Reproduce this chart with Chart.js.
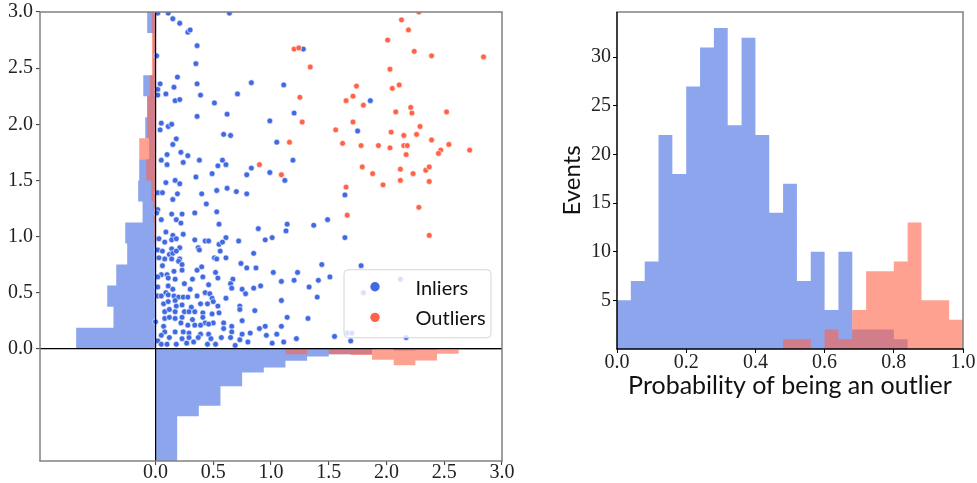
<!DOCTYPE html>
<html>
<head>
<meta charset="utf-8">
<script src="https://cdn.jsdelivr.net/npm/chart.js@4.4.1/dist/chart.umd.min.js"></script>
<style>
  html, body { margin: 0; padding: 0; background: #fff; }
  #wrap { position: relative; width: 977px; height: 483px; overflow: hidden; }
  #scatter { position: absolute; left: 0; top: 0; }
  #proba { position: absolute; left: 520px; top: 0; }
</style>
</head>
<body>
<div id="wrap">
  <canvas id="scatter" width="520" height="483"></canvas>
  <canvas id="proba" width="457" height="483"></canvas>
</div>
<script>
// ---- data ----
var seriesNames = ['Inliers', 'Outliers'];
var seriesColors = ['#4169E1', '#FF6347'];

var axisTicks = [0, 0.5, 1, 1.5, 2, 2.5, 3];
var probTicks = [0, 0.2, 0.4, 0.6, 0.8, 1];
var countTicks = [5, 10, 15, 20, 25, 30];

// marginal histograms of the scatter (bar length in axis units)
var binEdges = [0, 0.1875, 0.375, 0.5625, 0.75, 0.9375, 1.125, 1.3125, 1.5, 1.6875, 1.875, 2.0625, 2.25, 2.4375, 2.625, 2.8125, 3];
var inlierHistY = [0.687, 0.364, 0.418, 0.340, 0.245, 0.262, 0.112, 0.150, 0.141, 0.055, 0.089, 0.072, 0.106, 0.020, 0.020, 0.072];
var outlierHistY = [0, 0, 0, 0, 0, 0.010, 0.020, 0.037, 0.080, 0.141, 0.072, 0.072, 0.049, 0.031, 0.031, 0.031];
var inlierHistX = [1.03, 0.602, 0.507, 0.335, 0.211, 0.166, 0.107, 0.070, 0.050, 0.050, 0, 0.015, 0.010, 0, 0, 0];
var outlierHistX = [0, 0, 0, 0, 0.010, 0.010, 0.050, 0.010, 0.050, 0.055, 0.098, 0.148, 0.104, 0.044, 0.010, 0.010];

// probability histogram (events per bin)
var probEdges = [0, 0.04, 0.08, 0.12, 0.16, 0.2, 0.24, 0.28, 0.32, 0.36, 0.4, 0.44, 0.48, 0.52, 0.56, 0.6, 0.64, 0.68, 0.72, 0.76, 0.8, 0.84, 0.88, 0.92, 0.96, 1];
var inlierCounts = [5, 7, 9, 22, 18, 27, 31, 33, 23, 32, 22, 14, 17, 7, 10, 4, 10, 2, 2, 2, 1, 0, 0, 0, 0];
var outlierCounts = [0, 0, 0, 0, 0, 0, 0, 0, 0, 0, 0, 0, 1, 1, 0, 2, 1, 4, 8, 8, 9, 13, 5, 5, 3];

var inlierPoints = [
  [0.02,2.99],[0.11,2.99],[0.15,2.94],[0.21,2.90],[0.28,2.82],[0.30,2.84],[0.36,2.70],[0.64,2.99],
  [0.01,2.61],[0.35,2.54],[0.19,2.42],[0.36,2.36],[0.04,2.36],[0.02,2.31],[0.16,2.33],[0.02,2.26],
  [0.09,2.27],[0.17,2.21],[0.21,2.22],[0.39,2.26],[0.51,2.19],[0.71,2.27],[0.83,2.37],[1.11,2.35],
  [1.20,2.10],[0.99,2.03],[0.62,2.09],[0.36,2.07],[0.05,2.01],[0.11,1.98],[0.14,2.00],[0.04,1.95],
  [0.18,1.87],[0.15,1.82],[0.59,1.91],[0.65,1.90],[1.05,1.84],[0.22,1.75],[0.28,1.72],[0.10,1.73],
  [0.05,1.68],[0.10,1.64],[0.24,1.66],[0.38,1.68],[0.58,1.68],[0.54,1.63],[0.61,1.64],[0.83,1.61],
  [0.79,1.55],[0.49,1.56],[0.35,1.53],[0.99,1.57],[1.19,1.68],[1.12,1.50],[0.17,1.50],[1.28,2.67],
  [1.86,2.21],[1.75,1.94],
  [1.64,1.37],[1.49,1.15],[1.64,0.99],[1.44,0.75],[1.78,0.74],[1.51,0.64],[2.12,0.62],[1.80,0.50],
  [1.55,0.11],[1.69,0.07],[2.17,0.10],[1.66,0.14],[1.70,0.14],
  [0.09,1.48],[0.21,1.47],[0.02,1.39],[0.06,1.39],[0.19,1.38],[0.15,1.33],[0.40,1.38],[0.53,1.41],
  [0.62,1.43],[0.70,1.40],[0.79,1.38],[0.44,1.29],[0.02,1.24],[0.01,1.21],[0.14,1.20],[0.23,1.20],
  [0.34,1.21],[0.53,1.22],[0.05,1.15],[0.18,1.15],[0.22,1.12],[0.55,1.11],[1.14,1.11],[0.89,1.07],
  [1.13,1.05],[1.37,1.10],[0.09,1.04],[0.15,1.01],[0.24,1.02],[0.03,0.98],[0.08,0.95],[0.14,0.97],
  [0.18,0.98],[0.34,0.97],[0.43,0.96],[0.46,0.96],[0.55,0.93],[0.61,0.99],[0.58,0.95],[0.72,0.96],
  [0.95,0.97],[1.01,0.99],[0.02,0.88],[0.06,0.87],[0.14,0.89],[0.21,0.90],[0.37,0.90],[0.38,0.88],
  [0.56,0.87],[0.12,0.84],[0.15,0.85],[0.18,0.87],[0.03,0.81],[0.08,0.80],[0.14,0.80],[0.21,0.80],
  [0.51,0.81],[0.53,0.80],[0.61,0.81],[0.85,0.85],[0.20,0.78],[0.06,0.74],[0.23,0.75],[0.40,0.73],
  [0.74,0.76],[0.79,0.72],[0.87,0.72],[1.23,0.68],[0.05,0.66],[0.10,0.66],[0.16,0.69],[0.23,0.70],
  [0.36,0.70],[0.52,0.68],[0.02,0.64],[0.11,0.63],[0.17,0.62],[0.25,0.58],[0.32,0.62],[0.41,0.64],
  [0.54,0.63],[0.67,0.62],[0.65,0.58],[1.02,0.68],[1.20,0.61],[1.41,0.61],[0.02,0.55],[0.11,0.56],
  [0.15,0.53],[0.30,0.53],[0.46,0.57],[0.66,0.54],[0.75,0.53],[0.85,0.54],[0.91,0.56],[1.09,0.60],
  [1.33,0.55],[0.02,0.47],[0.05,0.47],[0.09,0.50],[0.11,0.48],[0.16,0.47],[0.20,0.46],[0.24,0.46],
  [0.28,0.46],[0.36,0.47],[0.43,0.50],[0.47,0.49],[0.49,0.45],[0.61,0.45],[0.78,0.49],[1.40,0.46],
  [0.07,0.40],[0.11,0.42],[0.17,0.43],[0.18,0.38],[0.23,0.39],[0.31,0.37],[0.39,0.40],[0.45,0.40],
  [0.50,0.42],[0.54,0.38],[0.73,0.38],[0.73,0.35],[0.86,0.34],[1.09,0.43],[0.08,0.33],[0.12,0.35],
  [0.17,0.33],[0.25,0.33],[0.29,0.33],[0.34,0.33],[0.41,0.32],[0.49,0.31],[0.55,0.32],[0.08,0.27],
  [0.12,0.28],[0.17,0.27],[0.23,0.28],[0.32,0.26],[0.41,0.28],[0.43,0.23],[0.50,0.23],[0.75,0.25],
  [1.14,0.28],[1.32,0.27],[0.00,0.24],[0.07,0.20],[0.22,0.23],[0.28,0.21],[0.34,0.21],[0.39,0.21],
  [0.46,0.22],[0.59,0.23],[0.66,0.20],[0.08,0.15],[0.17,0.15],[0.24,0.15],[0.29,0.14],[0.39,0.13],
  [0.46,0.13],[0.59,0.18],[0.66,0.15],[0.75,0.13],[0.90,0.18],[0.95,0.20],[1.09,0.20],[0.82,0.14],
  [0.96,0.12],[1.05,0.13],[0.05,0.12],[0.12,0.10],[0.23,0.09],[0.29,0.10],[0.37,0.10],[0.48,0.09],
  [0.57,0.10],[0.65,0.10],[0.73,0.08],[0.80,0.06],[1.22,0.09],[1.01,0.05],[1.11,0.06],[0.02,0.07],
  [0.05,0.04],[0.10,0.04],[0.18,0.04],[0.27,0.05],[0.33,0.06],[0.45,0.04],[0.52,0.04],[0.69,0.03]
];

var outlierPoints = [
  [1.20,2.67],[1.24,2.68],[1.34,2.51],[1.25,2.24],[1.27,2.02],[1.16,1.84],[0.90,1.64],[1.09,1.55],
  [2.28,3.00],[2.13,2.93],[2.19,2.84],[2.01,2.75],[2.24,2.65],[2.39,2.61],[2.84,2.60],[2.03,2.49],
  [1.74,2.34],[2.11,2.35],[2.05,2.32],[1.71,2.25],[1.65,2.21],[1.80,2.17],[2.21,2.15],[2.22,2.10],
  [2.08,2.11],[2.52,2.11],[1.71,2.02],[1.56,1.95],[2.04,1.93],[2.29,1.98],[2.15,1.90],[2.26,1.91],
  [2.39,1.86],[1.62,1.83],[1.78,1.81],[1.93,1.81],[2.03,1.79],[2.15,1.81],[2.18,1.81],[2.54,1.82],
  [2.47,1.77],[2.45,1.74],[2.72,1.77],[2.17,1.73],[1.79,1.62],[1.88,1.56],[2.12,1.60],[2.23,1.56],
  [2.34,1.59],[2.37,1.62],[2.12,1.50],[2.37,1.49],[1.65,1.44],[1.97,1.46],[2.28,1.26],[1.66,1.19],
  [2.37,1.01]
];

// ---- helpers ----
var blueFill = 'rgba(65, 105, 225, 0.6)';
var redFill = 'rgba(255, 99, 71, 0.6)';
var serif = "'Liberation Serif', 'Times New Roman', serif";
var sans = "Lato, 'Open Sans', sans-serif";

// closed step outline of a histogram; side: 'left', 'down' or 'up'
function stepShape(edges, heights, side) {
  var pts = [];
  function push(e, h) {
    if (side === 'left') pts.push({x: -h, y: e});
    else if (side === 'down') pts.push({x: e, y: -h});
    else pts.push({x: e, y: h});
  }
  push(edges[0], 0);
  for (var i = 0; i < heights.length; i++) {
    push(edges[i], heights[i]);
    push(edges[i + 1], heights[i]);
  }
  push(edges[edges.length - 1], 0);
  push(edges[0], 0);
  return pts;
}

function histDataset(points, color, order) {
  return {
    type: 'line',
    data: points,
    backgroundColor: color,
    borderColor: 'rgba(0,0,0,0)',
    borderWidth: 0,
    pointRadius: 0,
    tension: 0,
    fill: 'shape',
    order: order
  };
}

function toXY(list) {
  return list.map(function (p) { return {x: p[0], y: p[1]}; });
}

// spines round the plot area
var framePlugin = {
  id: 'frame',
  afterDraw: function (chart, args, o) {
    var ctx = chart.ctx, a = chart.chartArea;
    ctx.save();
    ctx.lineWidth = o.width;
    function side(color, x1, y1, x2, y2) {
      ctx.strokeStyle = color;
      ctx.beginPath();
      ctx.moveTo(x1, y1);
      ctx.lineTo(x2, y2);
      ctx.stroke();
    }
    side(o.top, a.left - 0.7, a.top, a.right + 0.7, a.top);
    side(o.right, a.right, a.top, a.right, a.bottom);
    side(o.bottom, a.left - 0.7, a.bottom, a.right + 0.7, a.bottom);
    side(o.left, a.left, a.top, a.left, a.bottom);
    ctx.restore();
  }
};

// legend box in the lower right of the scatter quadrant
var innerLegend = {
  id: 'innerLegend',
  afterDraw: function (chart) {
    var ctx = chart.ctx;
    var right = chart.scales.x.getPixelForValue(3) - 11;
    var bottom = chart.scales.y.getPixelForValue(0) - 11;
    var w = 147, h = 68, left = right - w, top = bottom - h, r = 4;
    ctx.save();
    ctx.beginPath();
    ctx.moveTo(left + r, top);
    ctx.arcTo(right, top, right, bottom, r);
    ctx.arcTo(right, bottom, left, bottom, r);
    ctx.arcTo(left, bottom, left, top, r);
    ctx.arcTo(left, top, right, top, r);
    ctx.closePath();
    ctx.fillStyle = 'rgba(255,255,255,0.8)';
    ctx.fill();
    ctx.strokeStyle = '#d6d6d6';
    ctx.lineWidth = 1;
    ctx.stroke();
    ctx.font = '20px ' + sans;
    ctx.textBaseline = 'alphabetic';
    ctx.textAlign = 'left';
    for (var i = 0; i < seriesNames.length; i++) {
      var cy = top + 17 + i * 30.6;
      ctx.beginPath();
      ctx.arc(left + 31, cy, 4.7, 0, Math.PI * 2);
      ctx.fillStyle = seriesColors[i];
      ctx.fill();
      ctx.fillStyle = '#111';
      ctx.fillText(seriesNames[i], left + 71.5, cy + 8);
    }
    ctx.restore();
  }
};

Chart.defaults.font.family = serif;
Chart.defaults.font.size = 20;
Chart.defaults.color = '#222';

var zeroGrid = {
  z: 1,
  color: function (c) { return c.tick && c.tick.value === 0 ? '#000' : 'rgba(0,0,0,0)'; },
  lineWidth: 1.2,
  tickColor: '#333',
  tickLength: 4,
  tickWidth: 1
};

// ---- scatter with marginal histograms ----
new Chart(document.getElementById('scatter'), {
  type: 'scatter',
  data: {
    datasets: [
      histDataset(stepShape(binEdges, inlierHistY, 'left'), blueFill, 5),
      histDataset(stepShape(binEdges, inlierHistX, 'down'), blueFill, 5),
      histDataset(stepShape(binEdges, outlierHistY, 'left'), redFill, 4),
      histDataset(stepShape(binEdges, outlierHistX, 'down'), redFill, 4),
      {
        label: seriesNames[0],
        data: toXY(inlierPoints),
        backgroundColor: seriesColors[0],
        borderColor: '#fff',
        borderWidth: 0.6,
        pointRadius: 2.9,
        order: 2
      },
      {
        label: seriesNames[1],
        data: toXY(outlierPoints),
        backgroundColor: seriesColors[1],
        borderColor: '#fff',
        borderWidth: 0.6,
        pointRadius: 2.9,
        order: 1
      }
    ]
  },
  options: {
    responsive: false,
    animation: false,
    layout: { padding: { left: 0, top: 12, right: 18, bottom: 0 } },
    plugins: {
      legend: { display: false },
      tooltip: { enabled: false },
      frame: { width: 1.5, top: '#808080', right: '#808080', bottom: '#808080', left: '#808080' }
    },
    scales: {
      x: {
        type: 'linear',
        min: -1,
        max: 3,
        border: { display: false },
        afterBuildTicks: function (s) { s.ticks = axisTicks.map(function (v) { return {value: v}; }); },
        afterFit: function (s) { s.height = 22; s.paddingLeft = 0; s.paddingRight = 0; },
        ticks: { callback: function (v) { return v.toFixed(1); }, padding: -2, maxRotation: 0, autoSkip: false, font: { size: 20, lineHeight: 1 } },
        grid: zeroGrid
      },
      y: {
        type: 'linear',
        min: -1,
        max: 3,
        border: { display: false },
        afterBuildTicks: function (s) { s.ticks = axisTicks.map(function (v) { return {value: v}; }); },
        afterFit: function (s) { s.width = 40; s.paddingTop = 0; s.paddingBottom = 0; },
        ticks: { callback: function (v) { return v.toFixed(1); }, padding: 3, autoSkip: false, font: { size: 20, lineHeight: 1 } },
        grid: zeroGrid
      }
    }
  },
  plugins: [framePlugin, innerLegend]
});

// ---- probability histogram ----
new Chart(document.getElementById('proba'), {
  type: 'scatter',
  data: {
    datasets: [
      histDataset(stepShape(probEdges, inlierCounts, 'up'), blueFill, 2),
      histDataset(stepShape(probEdges, outlierCounts, 'up'), redFill, 1)
    ]
  },
  options: {
    responsive: false,
    animation: false,
    layout: { padding: { left: 0, top: 12, right: 14, bottom: 0 } },
    plugins: {
      legend: { display: false },
      tooltip: { enabled: false },
      frame: { width: 1.5, top: '#808080', right: '#808080', bottom: '#000', left: '#000' }
    },
    scales: {
      x: {
        type: 'linear',
        min: 0,
        max: 1,
        border: { display: false },
        afterBuildTicks: function (s) { s.ticks = probTicks.map(function (v) { return {value: v}; }); },
        afterFit: function (s) { s.height = 134; s.paddingLeft = 0; s.paddingRight = 0; },
        ticks: { callback: function (v) { return v.toFixed(1); }, padding: 0, maxRotation: 0, autoSkip: false, font: { size: 20, lineHeight: 1 } },
        grid: { drawOnChartArea: false, tickColor: '#000', tickLength: 4 },
        title: { display: true, text: 'Probability of being an outlier', color: '#111', font: { family: sans, size: 25 }, padding: { top: 0, bottom: 82 } }
      },
      y: {
        type: 'linear',
        min: 0,
        max: 34.65,
        border: { display: false },
        afterBuildTicks: function (s) { s.ticks = countTicks.map(function (v) { return {value: v}; }); },
        afterFit: function (s) { s.width = 97; s.paddingTop = 0; s.paddingBottom = 0; },
        ticks: { padding: 2, autoSkip: false, font: { size: 20, lineHeight: 1 } },
        grid: { drawOnChartArea: false, tickColor: '#000', tickLength: 4 },
        title: { display: true, text: 'Events', color: '#111', font: { family: sans, size: 24 }, padding: { top: 38, bottom: 0 } }
      }
    }
  },
  plugins: [framePlugin]
});
</script>
</body>
</html>
